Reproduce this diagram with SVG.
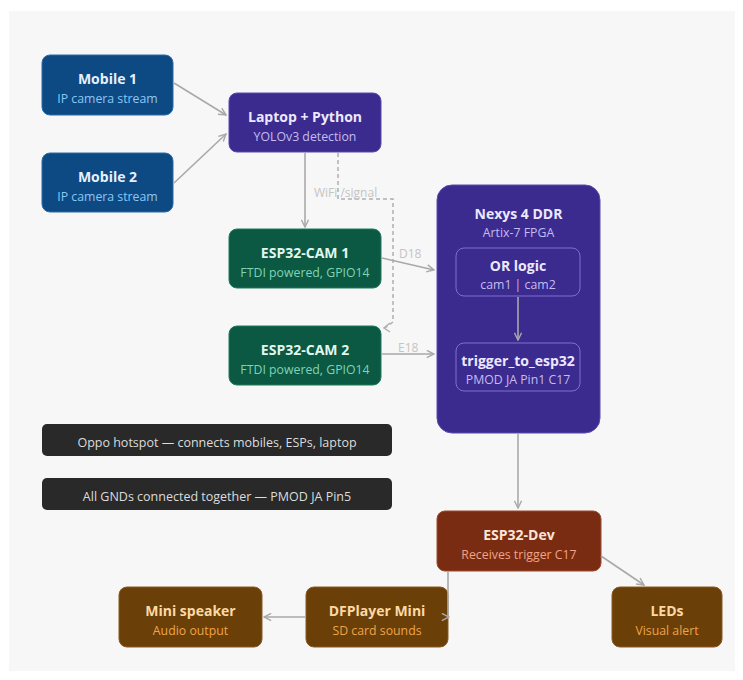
<svg xmlns="http://www.w3.org/2000/svg" width="743" height="680" viewBox="0 0 743 680">
<defs>
<style>
.t{font-family:"Open Sans","Noto Sans","DejaVu Sans",sans-serif;font-size:14px;font-weight:bold;text-anchor:middle}
.s{font-family:"Open Sans","Noto Sans","DejaVu Sans",sans-serif;font-size:12.3px;text-anchor:middle}
.lbl{font-family:"Open Sans","Noto Sans","DejaVu Sans",sans-serif;font-size:12px;fill:#c4c4c4}
.bar{font-family:"Open Sans","Noto Sans","DejaVu Sans",sans-serif;font-size:12.5px;fill:#dcdcdc;text-anchor:middle}
.c{fill:none;stroke:#a9a9a9;stroke-width:1.6;marker-end:url(#ah)}
.blue{fill:#0d4a84;stroke:#2a6aa8;stroke-width:1}
.pur{fill:#3b2b8e;stroke:#5a4ab0;stroke-width:1}
.grn{fill:#0b5843;stroke:#1f7a60;stroke-width:1}
.inner{fill:#3b2b8e;stroke:#7e70cf;stroke-width:1}
.red{fill:#7a2c13;stroke:#9c4a2c;stroke-width:1}
.brn{fill:#6b3f08;stroke:#8a5a20;stroke-width:1}
</style>
<marker id="ah" viewBox="0 0 10 10" refX="9" refY="5" markerWidth="9" markerHeight="9" orient="auto" markerUnits="userSpaceOnUse">
<path d="M1,1 L9,5 L1,9" fill="none" stroke="#a9a9a9" stroke-width="1.6"/>
</marker>
</defs>
<rect x="0" y="0" width="743" height="680" fill="#ffffff"/>
<rect x="9" y="11" width="726" height="660" fill="#f7f7f7"/>

<g id="mobile1">
<rect class="blue" x="42" y="55" width="131" height="60" rx="8"/>
<text class="t" x="107.5" y="84" fill="#e6f0fa">Mobile 1</text>
<text class="s" x="107.5" y="103" fill="#8cc6f2">IP camera stream</text>
</g>
<g id="mobile2">
<rect class="blue" x="42" y="153" width="131" height="59" rx="8"/>
<text class="t" x="107.5" y="182" fill="#e6f0fa">Mobile 2</text>
<text class="s" x="107.5" y="201" fill="#8cc6f2">IP camera stream</text>
</g>
<g id="laptop">
<rect class="pur" x="229" y="93" width="152" height="59" rx="8"/>
<text class="t" x="305" y="122" fill="#ece8ff">Laptop + Python</text>
<text class="s" x="305" y="141" fill="#c4bcf2">YOLOv3 detection</text>
</g>
<g id="espcam1">
<rect class="grn" x="229" y="229" width="152" height="59" rx="8"/>
<text class="t" x="305" y="258" fill="#e2f6ee">ESP32-CAM 1</text>
<text class="s" x="305" y="277" fill="#7fd4b3">FTDI powered, GPIO14</text>
</g>
<g id="espcam2">
<rect class="grn" x="229" y="326" width="152" height="59" rx="8"/>
<text class="t" x="305" y="355" fill="#e2f6ee">ESP32-CAM 2</text>
<text class="s" x="305" y="374" fill="#7fd4b3">FTDI powered, GPIO14</text>
</g>
<g id="nexys">
<rect class="pur" x="437" y="185" width="163" height="248" rx="15"/>
<text class="t" x="518.5" y="219" fill="#ece8ff">Nexys 4 DDR</text>
<text class="s" x="518.5" y="237" fill="#c4bcf2">Artix-7 FPGA</text>
</g>
<g id="orlogic">
<rect class="inner" x="456" y="248" width="124" height="48" rx="8"/>
<text class="t" x="518" y="271" fill="#ece8ff">OR logic</text>
<text class="s" x="518" y="289" fill="#c4bcf2">cam1 | cam2</text>
</g>
<g id="trigger">
<rect class="inner" x="456" y="343" width="124" height="48" rx="8"/>
<text class="t" x="518" y="366" fill="#ece8ff">trigger_to_esp32</text>
<text class="s" x="518" y="384" fill="#c4bcf2">PMOD JA Pin1 C17</text>
</g>
<g id="hotspot">
<rect x="42" y="424" width="350" height="32" rx="5" fill="#292929"/>
<text class="bar" x="217" y="447">Oppo hotspot — connects mobiles, ESPs, laptop</text>
</g>
<g id="gnd">
<rect x="42" y="478" width="350" height="32" rx="5" fill="#292929"/>
<text class="bar" x="217" y="501">All GNDs connected together — PMOD JA Pin5</text>
</g>
<g id="espdev">
<rect class="red" x="437" y="511" width="164" height="60" rx="8"/>
<text class="t" x="519" y="540" fill="#fbe4d8">ESP32-Dev</text>
<text class="s" x="519" y="559" fill="#f0a486">Receives trigger C17</text>
</g>
<g id="speaker">
<rect class="brn" x="119" y="587" width="143" height="60" rx="8"/>
<text class="t" x="190.5" y="616" fill="#fbd9a4">Mini speaker</text>
<text class="s" x="190.5" y="635" fill="#eda44a">Audio output</text>
</g>
<g id="dfplayer">
<rect class="brn" x="306" y="587" width="142" height="60" rx="8"/>
<text class="t" x="377" y="616" fill="#fbd9a4">DFPlayer Mini</text>
<text class="s" x="377" y="635" fill="#eda44a">SD card sounds</text>
</g>
<g id="leds">
<rect class="brn" x="612" y="587" width="110" height="60" rx="8"/>
<text class="t" x="667" y="616" fill="#fbd9a4">LEDs</text>
<text class="s" x="667" y="635" fill="#eda44a">Visual alert</text>
</g>

<g id="connectors">
<path class="c" d="M174,83 L226,115"/>
<path class="c" d="M174,183 L226,134"/>
<path class="c" d="M305,153 V227"/>
<path d="M338,153 V199 H393 V322 L385,328" fill="none" stroke="#b0b0b0" stroke-width="1.5" stroke-dasharray="4,3"/>
<path d="M390,323 L384,328 L390,332" fill="none" stroke="#b0b0b0" stroke-width="1.5"/>
<text class="lbl" x="314" y="197">WiFi /signal</text>
<path class="c" d="M382,258 L434,270"/>
<text class="lbl" x="399" y="258">D18</text>
<path class="c" d="M382,354 H434"/>
<text class="lbl" x="398" y="352">E18</text>
<path class="c" d="M518,297 V340"/>
<path class="c" d="M518,434 V508"/>
<path class="c" d="M601,556 L644,585"/>
<path class="c" d="M448,572 V617 L449,617"/>
<path class="c" d="M305,617 H264"/>
</g>
</svg>
